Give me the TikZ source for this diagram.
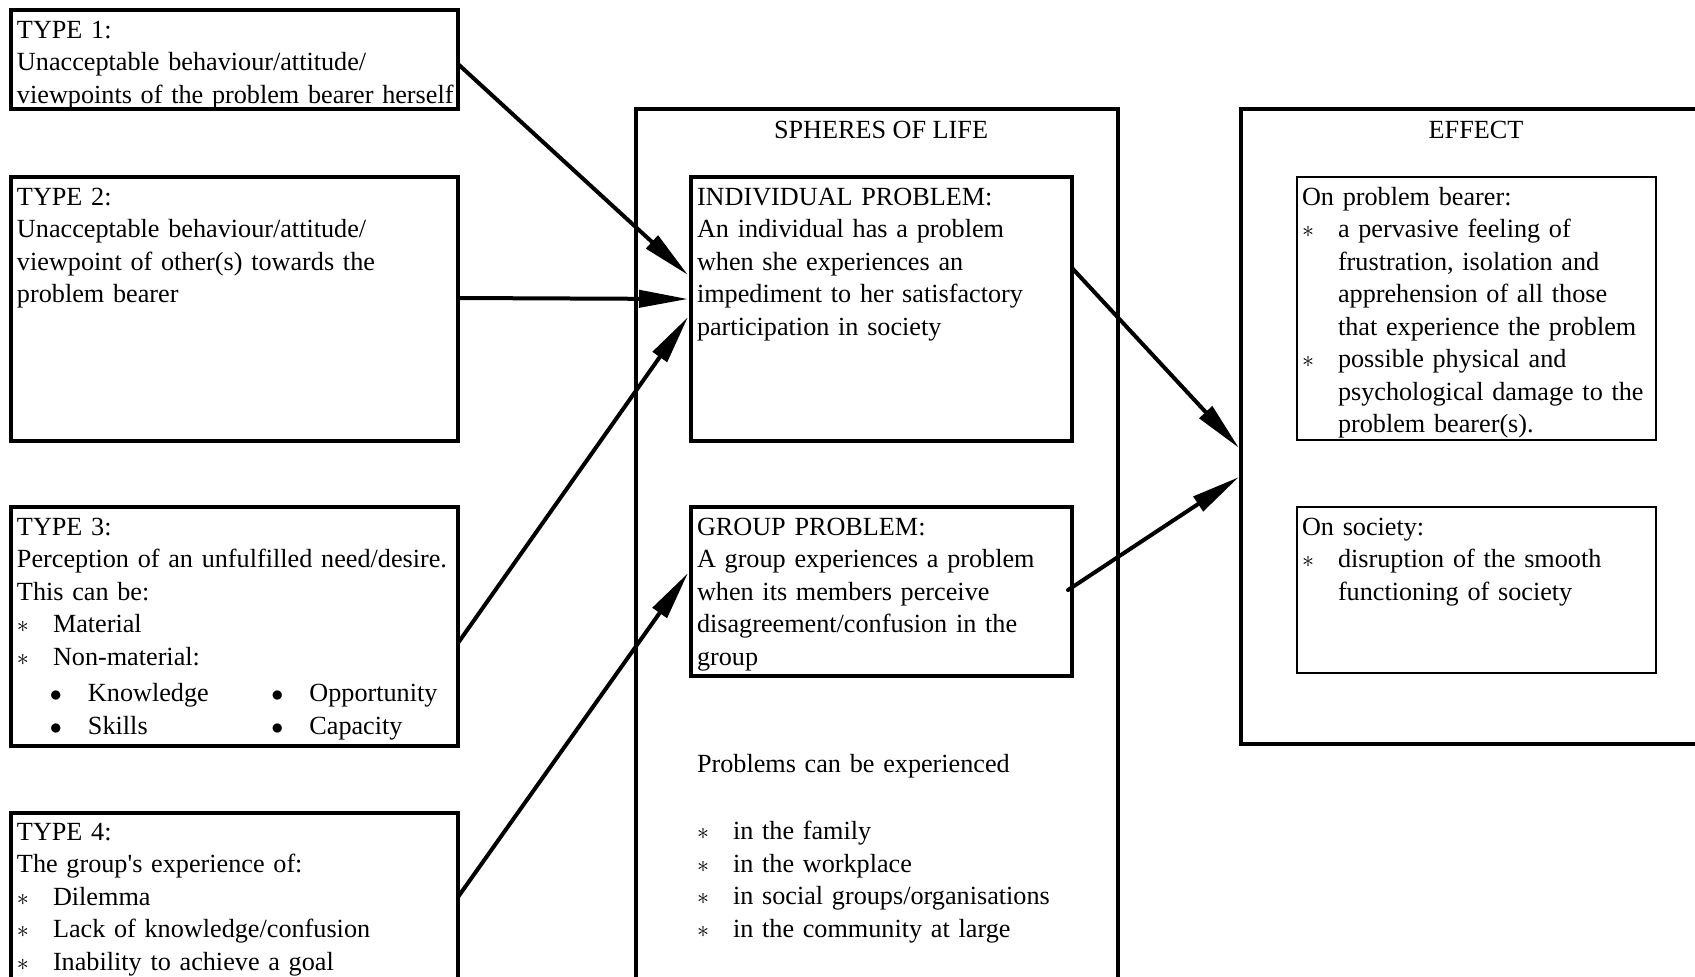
\documentclass[tikz,border=0pt]{standalone}
\usepackage{fontspec}
\setmainfont{Liberation Serif}
\usetikzlibrary{arrows.meta,calc,fit}
\setlength{\parindent}{0pt}
\newcommand\stitem{\makebox[18pt][l]{$\ast$}}
\newcommand\bul{\makebox[19pt][l]{$\bullet$}}
\newcommand\contind{\hspace*{18pt}}
\begin{document}
\begin{tikzpicture}[x=0.5pt,y=-0.5pt,
 box/.style={draw, line width=1.6pt, inner sep=0pt, outer sep=0pt},
 thinbox/.style={draw, line width=1pt, inner sep=0pt, outer sep=0pt},
 txt/.style={anchor=north west, inner sep=0pt, outer sep=0pt, align=left, text width=300pt, font=\fontsize{13.1pt}{16.25pt}\selectfont},
 title/.style={anchor=base, inner sep=0pt, font=\fontsize{13.1pt}{16.25pt}\selectfont},
 arr/.style={line width=2pt, line cap=round, -{Triangle[length=24.5pt,width=8.5pt]}}
]
\path[use as bounding box] (0,0) rectangle (1695,976);
\fill[white] (0,0) rectangle (1695,976);
\clip (0,0) rectangle (1695,976);

% left boxes
\node[box, fit={(11,10) (458,109)}] (t1) {};
\node[box, fit={(11,177) (458,441)}] (t2) {};
\node[box, fit={(11,507) (458,746)}] (t3) {};
\node[box, fit={(11,813) (458,1010)}] (t4) {};

% spheres
\node[box, fit={(636,109) (1118,1010)}] (sph) {};
\node[box, fit={(691,177) (1072,441)}] (ind) {};
\node[box, fit={(691,507) (1072,676)}] (grp) {};

% effect
\node[box, fit={(1241,109) (1730,744)}] (eff) {};
\node[thinbox, fit={(1297,177) (1656,440)}] (epb) {};
\node[thinbox, fit={(1297,507) (1656,673)}] (esoc) {};

% texts
\node[txt] (t1x) at (17,15.25) {\strut TYPE 1:\\
Unacceptable behaviour/attitude/\\
viewpoints of the problem bearer herself};

\node[txt] (t2x) at (17,182.25) {\strut TYPE 2:\\
Unacceptable behaviour/attitude/\\
viewpoint of other(s) towards the\\
problem bearer};

\node[txt] (t3x) at (17,512.25) {\strut TYPE 3:\\
Perception of an unfulfilled need/desire.\\
This can be:\\
\stitem Material\\
\stitem Non-material:\\[2pt]
\hspace*{16.5pt}\bul\makebox[91.7pt][l]{Knowledge}\bul Opportunity\\
\hspace*{16.5pt}\bul\makebox[91.7pt][l]{Skills}\bul Capacity};

\node[txt] (t4x) at (17,817.25) {\strut TYPE 4:\\
The group\textquotesingle s experience of:\\
\stitem Dilemma\\
\stitem Lack of knowledge/confusion\\
\stitem Inability to achieve a goal};

\node[title] (sphtitle) at (881,138) {SPHERES OF LIFE};
\node[title] (efftitle) at (1476,138) {EFFECT};

\node[txt] (indx) at (697,182.25) {\strut INDIVIDUAL PROBLEM:\\
An individual has a problem\\
when she experiences an\\
impediment to her satisfactory\\
participation in society};

\node[txt] (grpx) at (697,512.25) {\strut GROUP PROBLEM:\\
A group experiences a problem\\
when its members perceive\\
disagreement/confusion in the\\
group};

\node[txt] (probx) at (697,749.25) {\strut Problems can be experienced\\[17.5pt]
\stitem in the family\\
\stitem in the workplace\\
\stitem in social groups/organisations\\
\stitem in the community at large};

\node[txt] (epbx) at (1302,182.25) {\strut On problem bearer:\\
\stitem a pervasive feeling of\\
\contind frustration, isolation and\\
\contind apprehension of all those\\
\contind that experience the problem\\
\stitem possible physical and\\
\contind psychological damage to the\\
\contind problem bearer(s).};

\node[txt] (esocx) at (1302,512.25) {\strut On society:\\
\stitem disruption of the smooth\\
\contind functioning of society};

% connectors
\draw[arr] ($(t1.north east)+(0,54)$) -- ($(ind.north west)+(-3,98)$);
\draw[arr] ($(t2.north east)+(0,121)$) -- ($(ind.north west)+(-3,122)$);
\draw[arr] ($(t3.north east)+(0,136)$) -- ($(ind.north west)+(-3,140)$);
\draw[arr] ($(t4.north east)+(0,84)$) -- ($(grp.north west)+(-3,66)$);
\draw[arr] ($(ind.north east)+(0,91)$) -- ($(eff.north west)+(-2,339)$);
\draw[arr] ($(grp.north east)+(-4,83)$) -- ($(eff.north west)+(-2,368)$);
\end{tikzpicture}
\end{document}
